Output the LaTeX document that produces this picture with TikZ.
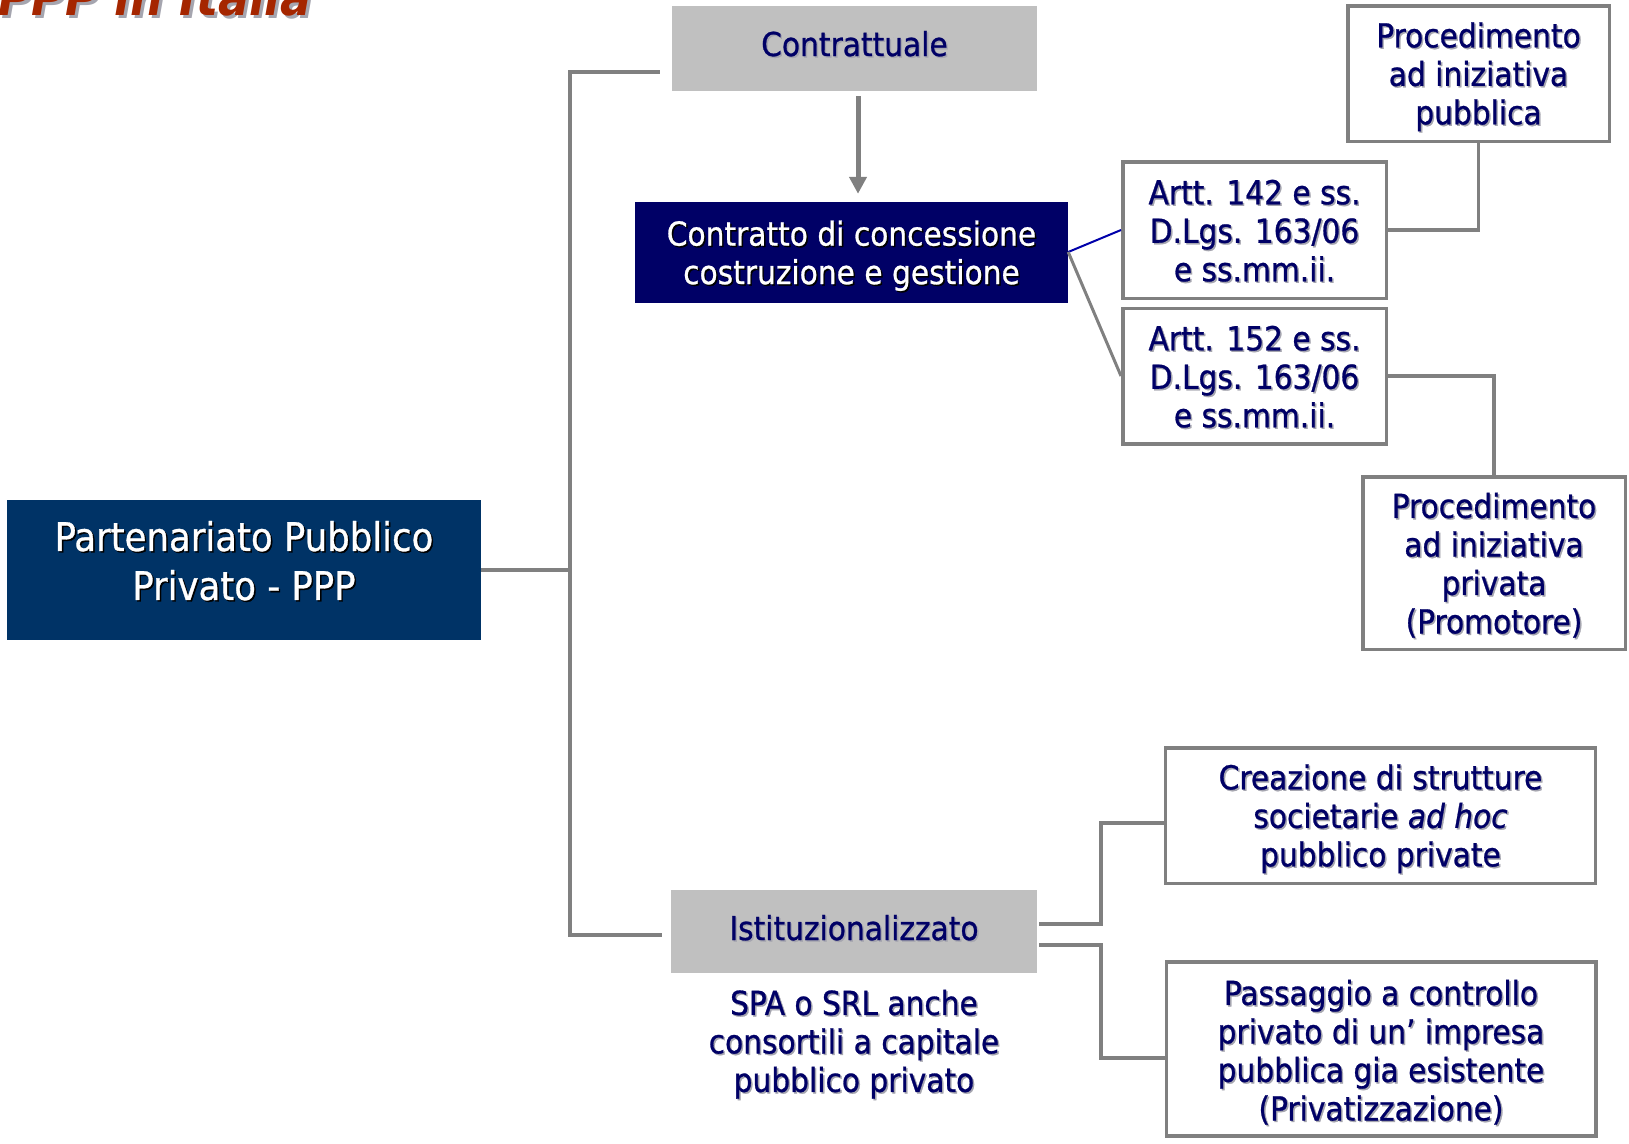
\documentclass[tikz,border=0pt]{standalone}
\usepackage{fontspec}
\setmainfont{DejaVu Sans Condensed}[UprightFeatures={FakeBold=0.8},ItalicFeatures={FakeBold=0.8}]
\usetikzlibrary{arrows.meta,calc}

\definecolor{navy}{RGB}{0,0,102}
\definecolor{pppblue}{RGB}{0,51,102}
\definecolor{boxgray}{RGB}{192,192,192}
\definecolor{linegray}{RGB}{128,128,128}
\definecolor{titlered}{RGB}{165,38,0}
\definecolor{softshadow}{RGB}{165,165,175}
\definecolor{linkblue}{RGB}{0,0,170}
\colorlet{shcol}{softshadow}

% vertical nudge of the text inside a box, dimensions kept
\newlength\tnudge
\setlength\tnudge{0pt}
% text with a small drop shadow behind it
\newcommand\sh[1]{\leavevmode\raisebox{\tnudge}[\height][\depth]{\rlap{\kern1.5pt\raisebox{-1.5pt}{\textcolor{shcol}{#1}}}#1}}
\newcommand\bigsh[1]{\leavevmode\rlap{\kern3pt\raisebox{-3pt}{\textcolor{softshadow}{#1}}}#1}

\tikzset{
  nudge/.style={execute at begin node={\setlength\tnudge{#1}}},
  txt/.style={font=\fontsize{33}{38.5}\selectfont, text=navy, align=center, inner sep=0pt},
  graybox/.style={txt, fill=boxgray},
  outlined/.style={txt, draw=linegray, line width=3.5pt, fill=white},
  darkbox/.style={txt, text=white, fill=navy,
    font=\fontsize{33}{38.5}\selectfont\colorlet{shcol}{black}},
  pppbox/.style={txt, text=white, fill=pppblue,
    font=\fontsize{39.5}{49}\selectfont\colorlet{shcol}{black}},
  link/.style={draw=linegray, line width=4pt},
  thinlink/.style={draw=linegray, line width=3.5pt},
  titletext/.style={font=\fontsize{51}{60}\selectfont\bfseries\itshape, text=titlered, inner sep=0pt},
}

\begin{document}
\begin{tikzpicture}[x=1pt,y=-1pt]
\useasboundingbox (0,0) rectangle (1629,1143);

% heading
\node[titletext, anchor=base west] (title) at (-2,15.5) {\bigsh{PPP in Italia}};

% boxes
\node[pppbox, nudge=8.5pt, minimum width=474pt, minimum height=140pt] (ppp) at (244,570)
  {\sh{Partenariato Pubblico}\\\sh{Privato - PPP}};

\node[graybox, nudge=4pt, minimum width=365pt, minimum height=85pt] (contr) at (854.5,48.5)
  {\sh{Contrattuale}};

\node[darkbox, nudge=-4.5pt, minimum width=433pt, minimum height=101pt] (conc) at (851.5,252)
  {\sh{Contratto di concessione}\\\sh{costruzione e gestione}};

\node[outlined, nudge=-1.5pt, minimum width=263.5pt, minimum height=136.5pt] (a142) at (1254.5,230)
  {\sh{Artt. 142 e ss.}\\\sh{D.Lgs. 163/06}\\\sh{e ss.mm.ii.}};

\node[outlined, nudge=-1.5pt, minimum width=263.5pt, minimum height=135.5pt] (a152) at (1254.5,376)
  {\sh{Artt. 152 e ss.}\\\sh{D.Lgs. 163/06}\\\sh{e ss.mm.ii.}};

\node[outlined, nudge=-4pt, minimum width=261.5pt, minimum height=135.5pt] (pub) at (1478.5,73.5)
  {\sh{Procedimento}\\\sh{ad iniziativa}\\\sh{pubblica}};

\node[outlined, nudge=-3pt, minimum width=262.5pt, minimum height=172.5pt] (priv) at (1494,563)
  {\sh{Procedimento}\\\sh{ad iniziativa}\\\sh{privata}\\\sh{(Promotore)}};

\node[graybox, nudge=3pt, minimum width=366pt, minimum height=83pt] (ist) at (854,931.5)
  {\sh{Istituzionalizzato}};

\node[txt, nudge=-3pt] (spa) at (854,1042)
  {\sh{SPA o SRL anche}\\\sh{consortili a capitale}\\\sh{pubblico privato}};

\node[outlined, nudge=-4pt, minimum width=430pt, minimum height=135.5pt] (crea) at (1380.5,815.5)
  {\sh{Creazione di strutture}\\\sh{societarie \textit{ad hoc}}\\\sh{pubblico private}};

\node[outlined, nudge=-4pt, minimum width=429.5pt, minimum height=174pt] (pass) at (1381,1049)
  {\sh{Passaggio a controllo}\\\sh{privato di un’ impresa}\\\sh{pubblica gia esistente}\\\sh{(Privatizzazione)}};

% main bracket
\draw[link] (ppp.east) -- ++(89,0) coordinate (hub);
\draw[link] ($(contr.west)+(-12,23.5)$) -| (hub) |- ($(ist.west)+(-9,3.5)$);

% contractual branch
\draw[linegray, line width=5pt, -{Triangle[width=17pt,length=17pt]}]
  ($(contr.south)+(3.5,5)$) -- ($(conc.north)+(6.5,-7.5)$);
\draw[linkblue, line width=2pt] (conc.east) -- (a142.west);
\draw[linegray, line width=3pt] (conc.east) -- (a152.west);
\draw[thinlink] (a142.east) -| (pub.south);
\draw[thinlink] (a152.east) -| (priv.north);

% institutional branch
\draw[link] ($(ist.east)+(2,-8)$) -- ++(62,0) |- ($(crea.west)+(0,7.5)$);
\draw[link] ($(ist.east)+(2,13)$) -- ++(62,0) |- ($(pass.west)+(0,8.5)$);
\end{tikzpicture}
\end{document}
